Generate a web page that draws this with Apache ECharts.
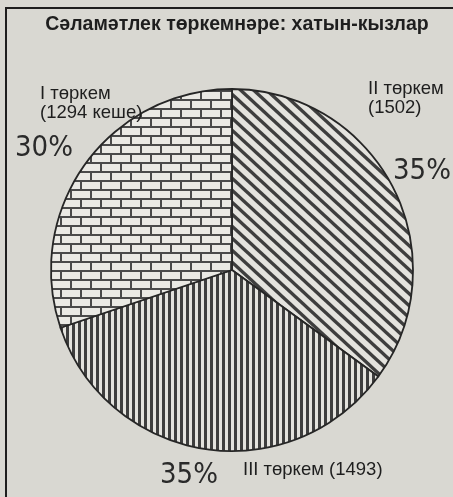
<!DOCTYPE html>
<html>
<head>
<meta charset="utf-8">
<script src="https://cdn.jsdelivr.net/npm/echarts@6/dist/echarts.min.js"></script>
<style>
  html, body { margin: 0; padding: 0; background: #d9d8d2; }
  #chart { width: 453px; height: 497px; }
</style>
</head>
<body>
<div id="chart"></div>
<script>
// slices, clockwise from 12 o'clock
const groups = ['II төркем', 'III төркем', 'I төркем']
const counts = [1502, 1493, 1294]
const labelTpl = ['{b}\n({c})', '{b} ({c})', '{b}\n({c} кеше)']

// hatch tiles
function tile(w, h, draw) {
  const c = document.createElement('canvas')
  c.width = w
  c.height = h
  const ctx = c.getContext('2d')
  ctx.fillStyle = '#e4e3de'
  ctx.fillRect(0, 0, w, h)
  draw(ctx, w, h)
  return { image: c, repeat: 'repeat' }
}

const diagonal = tile(13, 12, (ctx, w, h) => {
  ctx.strokeStyle = '#3e3e3e'
  ctx.lineWidth = 3.4
  for (let k = -1; k <= 1; k++) {
    ctx.beginPath()
    ctx.moveTo(k * w - w, -h)
    ctx.lineTo(k * w + 2 * w, 2 * h)
    ctx.stroke()
  }
})

const vertical = tile(6, 6, (ctx, w, h) => {
  ctx.fillStyle = '#3e3e3e'
  ctx.fillRect(0, 0, 3, h)
})

const brick = tile(20, 18, (ctx, w, h) => {
  ctx.fillStyle = '#eae9e4'
  ctx.fillRect(0, 0, w, h)
  ctx.fillStyle = '#4a4a4a'
  ctx.fillRect(0, 0, w, 2)
  ctx.fillRect(0, 9, w, 2)
  ctx.fillRect(0, 0, 2, 9)
  ctx.fillRect(10, 9, 2, 9)
})

const fills = [diagonal, vertical, brick]

const namePos = [
  { x: 368, y: 79 },
  { x: 243, y: 470 },
  { x: 40, y: 84 }
]
const pctPos = [
  { x: 393, y: 171 },
  { x: 160, y: 475 },
  { x: 15, y: 148 }
]

const pieData = groups.map((g, i) => ({
  name: g,
  value: counts[i],
  itemStyle: { color: fills[i] }
}))

const chart = echarts.init(document.getElementById('chart'))
chart.setOption({
  backgroundColor: '#d9d8d2',
  animation: false,
  title: {
    text: 'Сәламәтлек төркемнәре: хатын-кызлар',
    left: 232,
    textAlign: 'center',
    top: 10,
    textStyle: {
      fontFamily: 'Liberation Sans',
      fontSize: 19.5,
      fontWeight: 'bold',
      color: '#1e1e1e'
    }
  },
  graphic: [{
    type: 'rect',
    shape: { x: 6, y: 8, width: 470, height: 520 },
    style: { fill: 'none', stroke: '#1e1e1e', lineWidth: 2 },
    silent: true
  }],
  series: [
    {
      type: 'pie',
      center: [232, 270],
      radius: 181,
      startAngle: 90,
      clockwise: true,
      data: pieData,
      itemStyle: { borderColor: '#262626', borderWidth: 1.8 },
      emphasis: { disabled: true },
      labelLine: { show: false },
      label: {
        show: true,
        position: 'inside',
        overflow: 'none',
        formatter: p => labelTpl[p.dataIndex].replace('{b}', p.name).replace('{c}', p.value),
        fontFamily: 'Liberation Sans',
        fontSize: 18.5,
        lineHeight: 19,
        color: '#1e1e1e'
      },
      labelLayout: p => ({
        x: namePos[p.dataIndex].x,
        y: namePos[p.dataIndex].y,
        align: 'left',
        verticalAlign: p.dataIndex === 1 ? 'middle' : 'top'
      })
    },
    {
      type: 'pie',
      center: [232, 270],
      radius: 181,
      startAngle: 90,
      silent: true,
      percentPrecision: 0,
      data: groups.map((g, i) => ({ name: g, value: counts[i] })),
      itemStyle: { color: 'rgba(0,0,0,0)', borderWidth: 0 },
      labelLine: { show: false },
      label: {
        show: true,
        position: 'inside',
        overflow: 'none',
        formatter: '{d}%',
        fontFamily: 'DejaVu Sans Condensed',
        fontSize: 29,
        color: '#2a2a2a'
      },
      labelLayout: p => ({
        x: pctPos[p.dataIndex].x,
        y: pctPos[p.dataIndex].y,
        align: 'left',
        verticalAlign: 'middle'
      })
    }
  ]
})
</script>
</body>
</html>
